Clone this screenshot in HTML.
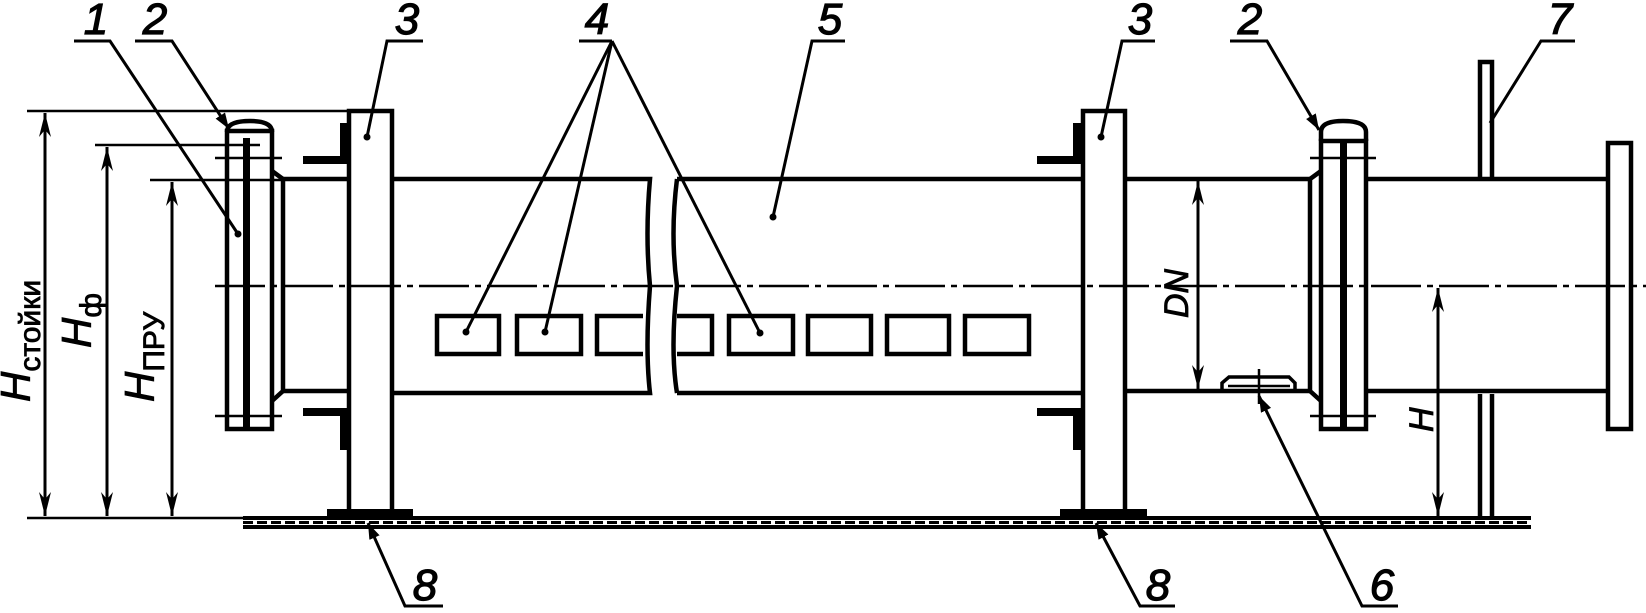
<!DOCTYPE html>
<html><head><meta charset="utf-8"><style>html,body{margin:0;padding:0;background:#fff}svg{display:block}</style></head>
<body>
<svg width="1646" height="613" viewBox="0 0 1646 613" xmlns="http://www.w3.org/2000/svg" font-family="Liberation Sans, DejaVu Sans, sans-serif">
<defs>
<marker id="a" viewBox="0 0 10 10" refX="10" refY="5" markerWidth="16" markerHeight="16" markerUnits="userSpaceOnUse" orient="auto-start-reverse"><path d="M0,1.5 L10,5 L0,8.5 Z" fill="#000"/></marker>
<marker id="b" viewBox="0 0 10 10" refX="10" refY="5" markerWidth="24" markerHeight="24" markerUnits="userSpaceOnUse" orient="auto-start-reverse"><path d="M0,2.5 L10,5 L0,7.5 L3,5 Z" fill="#000"/></marker>
</defs>
<g stroke="#000" fill="none" stroke-width="4.5">
<line x1="215" y1="286" x2="1646" y2="286" stroke-width="2.5" stroke-dasharray="50,6,6,6"/>
<line x1="243" y1="518" x2="1531" y2="518" stroke-width="4"/>
<line x1="243" y1="527" x2="1531" y2="527" stroke-width="4"/>
<line x1="243" y1="522.5" x2="1531" y2="522.5" stroke-width="3" stroke-dasharray="10,4"/>
<g stroke-width="2.5">
<line x1="27" y1="111" x2="392" y2="111"/>
<line x1="27" y1="518" x2="243" y2="518"/>
<line x1="95" y1="145" x2="260" y2="145"/>
<line x1="150" y1="180" x2="283" y2="180"/>
<line x1="45" y1="113" x2="45" y2="516" stroke-width="3" marker-start="url(#b)" marker-end="url(#b)"/>
<line x1="107" y1="147" x2="107" y2="516" stroke-width="3" marker-start="url(#b)" marker-end="url(#b)"/>
<line x1="172" y1="182" x2="172" y2="516" stroke-width="3" marker-start="url(#b)" marker-end="url(#b)"/>
</g>
<path d="M227,132 Q227,121 250,121 Q272,121 272,132"/>
<rect x="227" y="131" width="45" height="298"/>
<rect x="243" y="138" width="7" height="291" fill="#000" stroke="none"/>
<line x1="215" y1="158" x2="282" y2="158" stroke-width="2.5"/>
<line x1="215" y1="416" x2="282" y2="416" stroke-width="2.5"/>
<path d="M272,171 L283,179 L283,391 L272,401"/>
<line x1="283" y1="179" x2="348" y2="179"/>
<line x1="283" y1="391" x2="348" y2="391"/>
<path d="M392,179 L650,179 Q645,235 650,286 Q645,350 650,393 L392,393"/>
<path d="M677,179 Q670,235 677,286 Q670,350 677,393"/>
<line x1="677" y1="179" x2="1082" y2="179"/>
<line x1="677" y1="393" x2="1082" y2="393"/>
<rect x="437" y="316" width="62" height="38"/>
<rect x="517" y="316" width="64" height="38"/>
<path d="M643,316 L597,316 L597,354 L643,354"/>
<path d="M677,316 L712,316 L712,354 L677,354"/>
<rect x="729" y="316" width="64" height="38"/>
<rect x="808" y="316" width="63" height="38"/>
<rect x="887" y="316" width="62" height="38"/>
<rect x="965" y="316" width="64" height="38"/>
<rect x="349" y="111" width="43" height="401"/>
<rect x="327" y="509" width="86" height="9" fill="#000" stroke="none"/>
<rect x="340" y="123" width="8" height="35" fill="#000" stroke="none"/>
<rect x="303" y="156" width="45" height="8" fill="#000" stroke="none"/>
<rect x="303" y="408" width="45" height="8" fill="#000" stroke="none"/>
<rect x="340" y="410" width="8" height="40" fill="#000" stroke="none"/>
<rect x="1083" y="111" width="42" height="401"/>
<rect x="1060" y="509" width="87" height="9" fill="#000" stroke="none"/>
<rect x="1073" y="123" width="8" height="35" fill="#000" stroke="none"/>
<rect x="1037" y="156" width="45" height="8" fill="#000" stroke="none"/>
<rect x="1037" y="408" width="45" height="8" fill="#000" stroke="none"/>
<rect x="1073" y="410" width="8" height="40" fill="#000" stroke="none"/>
<line x1="1125" y1="179" x2="1310" y2="179"/>
<line x1="1125" y1="391" x2="1310" y2="391"/>
<path d="M1321,171 L1310,179 L1310,391 L1321,401"/>
<path d="M1321,141 L1321,132 Q1321,121 1343,121 Q1366,121 1366,132 L1366,141"/>
<rect x="1321" y="141" width="45" height="288"/>
<rect x="1340" y="143" width="7" height="286" fill="#000" stroke="none"/>
<line x1="1310" y1="158" x2="1376" y2="158" stroke-width="2.5"/>
<line x1="1310" y1="416" x2="1376" y2="416" stroke-width="2.5"/>
<line x1="1366" y1="179" x2="1608" y2="179"/>
<line x1="1366" y1="391" x2="1608" y2="391"/>
<rect x="1608" y="143" width="23" height="286"/>
<path d="M1480,179 L1480,62 L1492,62 L1492,179"/>
<path d="M1480,518 L1480,394 M1492,394 L1492,518"/>
<path d="M1222,391 L1222,383 L1229,377 L1289,377 L1295,383 L1295,391 Z" stroke-width="3.5"/>
<line x1="1228" y1="386" x2="1290" y2="386" stroke-width="2.5"/>
<line x1="1259" y1="369" x2="1259" y2="404" stroke-width="2.5"/>
<line x1="1198" y1="181" x2="1198" y2="389" stroke-width="3" marker-start="url(#b)" marker-end="url(#b)"/>
<line x1="1438" y1="288" x2="1438" y2="516" stroke-width="3" marker-start="url(#b)" marker-end="url(#b)"/>
</g>
<g stroke="#000" stroke-width="3" fill="none">
<polyline points="74,41 110,41 238,234"/>
<polyline points="135,41 172,41 229,129" marker-end="url(#a)"/>
<polyline points="423,41 387,41 367,137"/>
<line x1="579" y1="41" x2="612" y2="41"/>
<line x1="612" y1="41" x2="466" y2="332"/>
<line x1="612" y1="41" x2="545" y2="332"/>
<line x1="612" y1="41" x2="760" y2="333"/>
<polyline points="845,41 812,41 773,217"/>
<polyline points="1155,41 1122,41 1101,137"/>
<polyline points="1230,41 1267,41 1319,130" marker-end="url(#a)"/>
<polyline points="1575,41 1541,41 1490,123"/>
<polyline points="443,606 405,606 368,523" marker-end="url(#a)"/>
<polyline points="1175,606 1140,606 1096,523" marker-end="url(#a)"/>
<polyline points="1398,606 1362,606 1259,396" marker-end="url(#a)"/>
</g>
<g fill="#000">
<circle cx="238" cy="234" r="3.5"/><circle cx="367" cy="137" r="3.5"/><circle cx="466" cy="332" r="3.5"/><circle cx="545" cy="332" r="3.5"/><circle cx="760" cy="333" r="3.5"/><circle cx="773" cy="217" r="3.5"/><circle cx="1101" cy="137" r="3.5"/>
</g>
<g font-size="44" font-style="italic" fill="#000" stroke="#000" stroke-width="1.2" text-anchor="middle">
<text x="96" y="34">1</text><text x="155" y="34">2</text><text x="407" y="34">3</text><text x="597" y="34">4</text><text x="830" y="34">5</text><text x="1140" y="34">3</text><text x="1250" y="34">2</text><text x="1560" y="34">7</text>
<text x="425" y="600">8</text><text x="1158" y="600">8</text><text x="1382" y="600">6</text>
</g>
<g font-style="italic" fill="#000" font-size="42" stroke="#000" stroke-width="0.8">
<text transform="translate(30,402) rotate(-90)">H<tspan font-size="30" font-style="normal" dy="10">стойки</tspan></text>
<text transform="translate(91,348) rotate(-90)">H<tspan font-size="30" font-style="normal" dy="10">ф</tspan></text>
<text transform="translate(154,402) rotate(-90)">H<tspan font-size="30" font-style="normal" dy="10">ПРУ</tspan></text>
<text transform="translate(1188,318) rotate(-90)" font-size="34">DN</text>
<text transform="translate(1433,432) rotate(-90)" font-size="34">H</text>
</g>
</svg>
</body></html>
